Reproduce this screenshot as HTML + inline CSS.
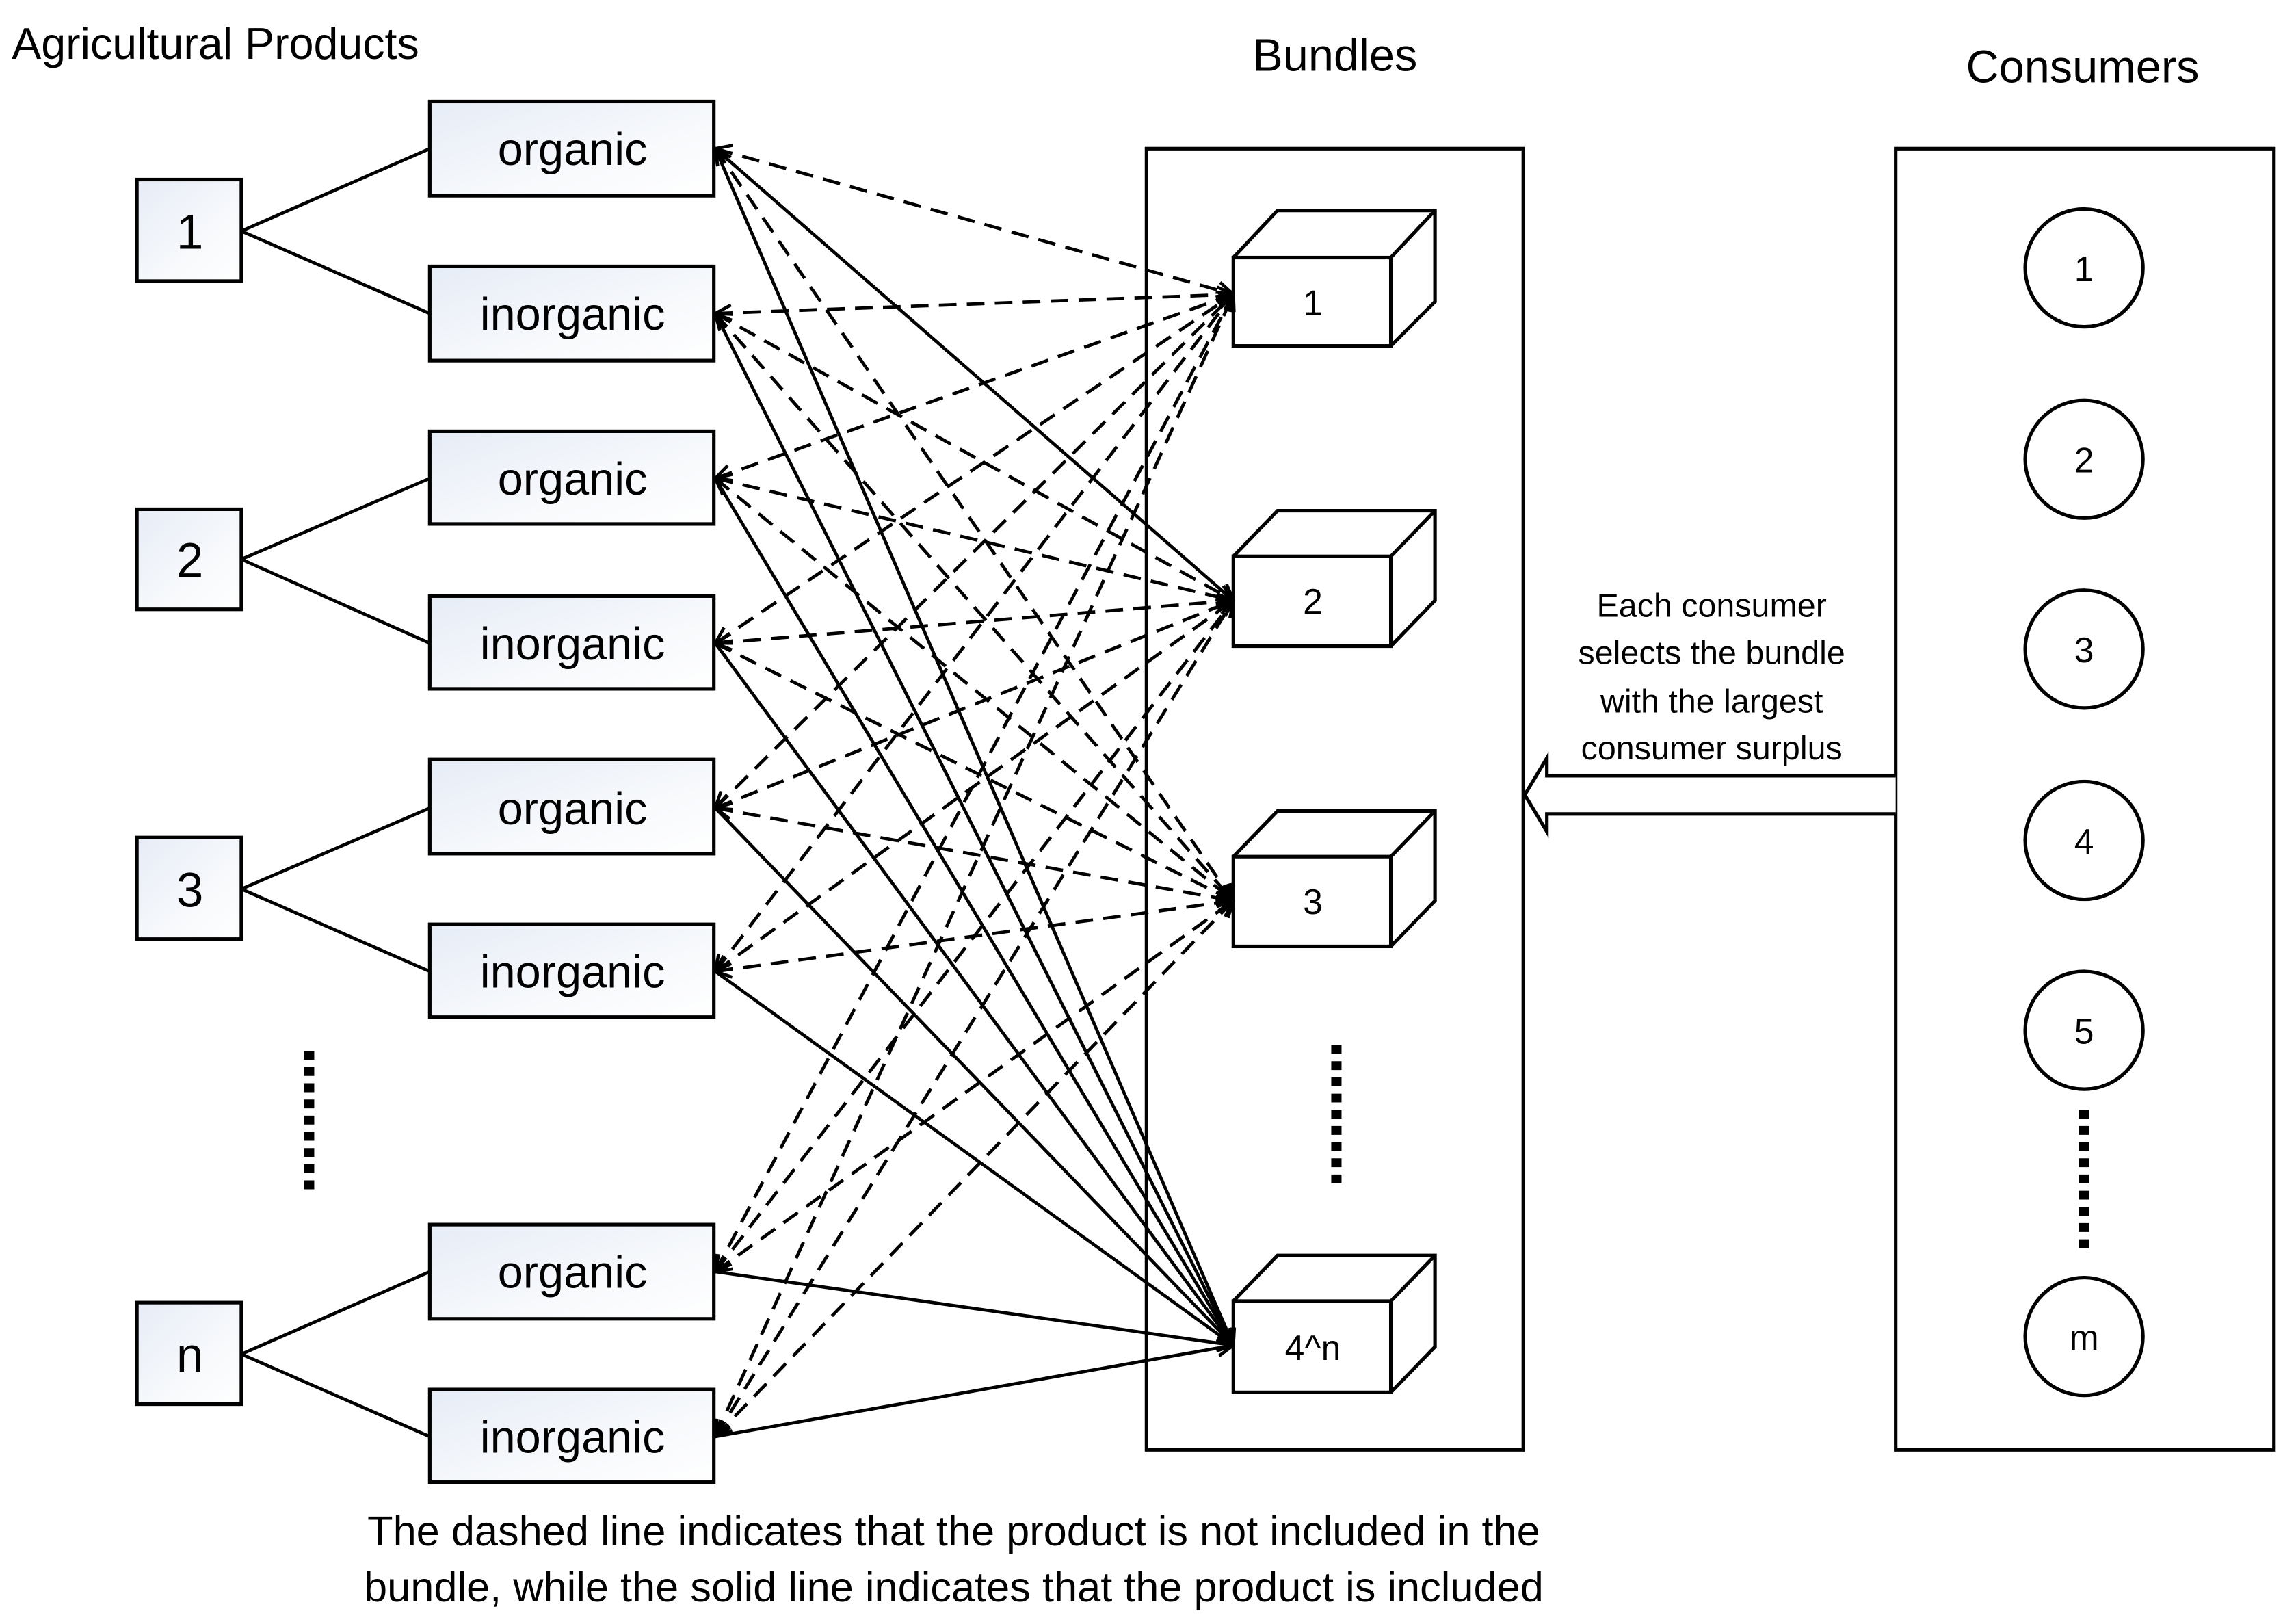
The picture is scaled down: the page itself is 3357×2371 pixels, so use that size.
<!DOCTYPE html>
<html><head><meta charset="utf-8"><style>html,body{margin:0;padding:0;background:#fff}svg{display:block}</style></head>
<body>
<svg width="3357" height="2371" viewBox="0 0 1560 1102" preserveAspectRatio="none" xmlns="http://www.w3.org/2000/svg" font-family="Liberation Sans, sans-serif">
<defs>
<linearGradient id="g" x1="0" y1="0" x2="1" y2="1"><stop offset="0" stop-color="#e6ecf6"/><stop offset="0.6" stop-color="#f7f9fc"/><stop offset="1" stop-color="#ffffff"/></linearGradient>
<marker id="ae" viewBox="0 0 12 12" refX="11" refY="6" markerWidth="13" markerHeight="13" markerUnits="userSpaceOnUse" orient="auto"><path d="M1,1 L11,6 L1,11" fill="none" stroke="#000" stroke-width="2"/></marker>
<marker id="as" viewBox="0 0 12 12" refX="1" refY="6" markerWidth="13" markerHeight="13" markerUnits="userSpaceOnUse" orient="auto"><path d="M11,1 L1,6 L11,11" fill="none" stroke="#000" stroke-width="2"/></marker>
</defs>
<rect width="1560" height="1102" fill="#fff"/>
<text x="8" y="40" font-size="30">Agricultural Products</text>
<text x="907" y="48" font-size="31" text-anchor="middle">Bundles</text>
<text x="1415" y="56" font-size="31" text-anchor="middle">Consumers</text>

<g stroke="#000" stroke-width="2.4" fill="url(#g)">
<rect x="93" y="122" width="71" height="69"/>
<rect x="93" y="346" width="71" height="68"/>
<rect x="93" y="569" width="71" height="69"/>
<rect x="93" y="885" width="71" height="69"/>
<rect x="292" y="69" width="193" height="64"/>
<rect x="292" y="181" width="193" height="64"/>
<rect x="292" y="293" width="193" height="63"/>
<rect x="292" y="405" width="193" height="63"/>
<rect x="292" y="516" width="193" height="64"/>
<rect x="292" y="628" width="193" height="63"/>
<rect x="292" y="832" width="193" height="64"/>
<rect x="292" y="944" width="193" height="63"/>
</g>
<g stroke="#000" stroke-width="2.2">
<line x1="164" y1="157" x2="292" y2="101"/><line x1="164" y1="157" x2="292" y2="213"/>
<line x1="164" y1="380" x2="292" y2="325"/><line x1="164" y1="380" x2="292" y2="437"/>
<line x1="164" y1="604" x2="292" y2="549"/><line x1="164" y1="604" x2="292" y2="660"/>
<line x1="164" y1="920" x2="292" y2="864"/><line x1="164" y1="920" x2="292" y2="976"/>
</g>
<g font-size="33" text-anchor="middle">
<text x="129" y="169">1</text><text x="129" y="392">2</text><text x="129" y="616">3</text><text x="129" y="932">n</text>
</g>
<g font-size="31" text-anchor="middle">
<text x="389" y="112">organic</text><text x="389" y="224">inorganic</text>
<text x="389" y="336">organic</text><text x="389" y="448">inorganic</text>
<text x="389" y="560">organic</text><text x="389" y="671">inorganic</text>
<text x="389" y="875">organic</text><text x="389" y="987">inorganic</text>
</g>
<line x1="210" y1="714" x2="210" y2="812" stroke="#000" stroke-width="7" stroke-dasharray="6,5"/>

<rect x="779" y="101" width="256" height="884" fill="none" stroke="#000" stroke-width="2.4"/>
<g stroke="#000" stroke-width="2.4" fill="#fff">
<path d="M838,175 L868,143 L975,143 L975,205 L945,235 M945,175 L975,143"/>
<rect x="838" y="175" width="107" height="60"/>
<path d="M838,378 L868,347 L975,347 L975,408 L945,439 M945,378 L975,347"/>
<rect x="838" y="378" width="107" height="61"/>
<path d="M838,582 L868,551 L975,551 L975,612 L945,643 M945,582 L975,551"/>
<rect x="838" y="582" width="107" height="61"/>
<path d="M838,884 L868,853 L975,853 L975,915 L945,946 M945,884 L975,853"/>
<rect x="838" y="884" width="107" height="62"/>
</g>
<g font-size="24" text-anchor="middle">
<text x="892" y="214">1</text><text x="892" y="417">2</text><text x="892" y="621">3</text><text x="892" y="924">4^n</text>
</g>
<line x1="908" y1="710" x2="908" y2="808" stroke="#000" stroke-width="7" stroke-dasharray="6,5"/>

<g stroke="#000" stroke-width="2.2" fill="none">
<g stroke-dasharray="12,7" marker-start="url(#as)" marker-end="url(#ae)">
<line x1="486" y1="101" x2="838" y2="200"/>
<line x1="486" y1="213" x2="838" y2="200"/>
<line x1="486" y1="325" x2="838" y2="200"/>
<line x1="486" y1="437" x2="838" y2="200"/>
<line x1="486" y1="549" x2="838" y2="200"/>
<line x1="486" y1="660" x2="838" y2="200"/>
<line x1="486" y1="864" x2="838" y2="200"/>
<line x1="486" y1="976" x2="838" y2="200"/>
<line x1="486" y1="213" x2="838" y2="408"/>
<line x1="486" y1="325" x2="838" y2="408"/>
<line x1="486" y1="437" x2="838" y2="408"/>
<line x1="486" y1="549" x2="838" y2="408"/>
<line x1="486" y1="660" x2="838" y2="408"/>
<line x1="486" y1="864" x2="838" y2="408"/>
<line x1="486" y1="976" x2="838" y2="408"/>
<line x1="486" y1="101" x2="838" y2="612"/>
<line x1="486" y1="213" x2="838" y2="612"/>
<line x1="486" y1="325" x2="838" y2="612"/>
<line x1="486" y1="437" x2="838" y2="612"/>
<line x1="486" y1="549" x2="838" y2="612"/>
<line x1="486" y1="660" x2="838" y2="612"/>
<line x1="486" y1="864" x2="838" y2="612"/>
<line x1="486" y1="976" x2="838" y2="612"/>
</g>
<g marker-end="url(#ae)">
<line x1="486" y1="101" x2="838" y2="408"/>
<line x1="486" y1="101" x2="838" y2="914"/>
<line x1="486" y1="213" x2="838" y2="914"/>
<line x1="486" y1="325" x2="838" y2="914"/>
<line x1="486" y1="437" x2="838" y2="914"/>
<line x1="486" y1="549" x2="838" y2="914"/>
<line x1="486" y1="660" x2="838" y2="914"/>
<line x1="486" y1="864" x2="838" y2="914"/>
<line x1="486" y1="976" x2="838" y2="914"/>
</g>
</g>

<rect x="1288" y="101" width="257" height="884" fill="none" stroke="#000" stroke-width="2.4"/>
<g stroke="#000" stroke-width="2.4" fill="#fff">
<circle cx="1416" cy="182" r="40"/><circle cx="1416" cy="312" r="40"/><circle cx="1416" cy="441" r="40"/>
<circle cx="1416" cy="571" r="40"/><circle cx="1416" cy="700" r="40"/><circle cx="1416" cy="908" r="40"/>
</g>
<g font-size="24" text-anchor="middle">
<text x="1416" y="191">1</text><text x="1416" y="321">2</text><text x="1416" y="450">3</text>
<text x="1416" y="580">4</text><text x="1416" y="709">5</text><text x="1416" y="917">m</text>
</g>
<line x1="1416" y1="754" x2="1416" y2="852" stroke="#000" stroke-width="7" stroke-dasharray="6,5"/>

<path d="M1288,527 L1051,527 L1051,515 L1036,540 L1051,565 L1051,553 L1288,553" fill="#fff" stroke="#000" stroke-width="2.4"/>
<g font-size="22.5" text-anchor="middle">
<text x="1163" y="419">Each consumer</text>
<text x="1163" y="451">selects the bundle</text>
<text x="1163" y="484">with the largest</text>
<text x="1163" y="516">consumer surplus</text>
</g>
<g font-size="28.5" text-anchor="middle">
<text x="648" y="1050">The dashed line indicates that the product is not included in the</text>
<text x="648" y="1088">bundle, while the solid line indicates that the product is included</text>
</g>
</svg>
</body></html>
